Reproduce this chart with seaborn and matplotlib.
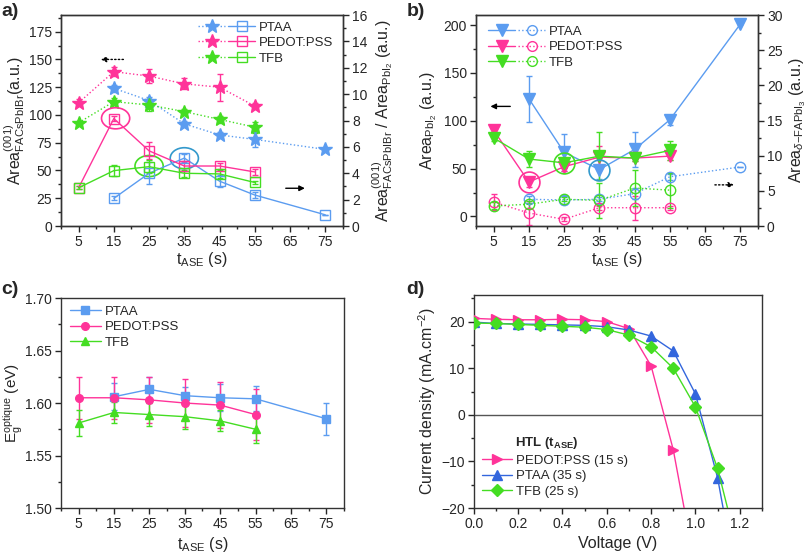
import numpy as np
import matplotlib
matplotlib.use("Agg")
import matplotlib.pyplot as plt
import seaborn as sns
from matplotlib.lines import Line2D
from matplotlib.patches import Ellipse
from matplotlib.legend_handler import HandlerTuple
from matplotlib.ticker import MultipleLocator

sns.set_style("ticks")
plt.rcParams["font.family"] = ["Liberation Sans", "DejaVu Sans"]
plt.rcParams["mathtext.fontset"] = "custom"
plt.rcParams["mathtext.rm"] = "Liberation Sans"
plt.rcParams["mathtext.it"] = "Liberation Sans:italic"
plt.rcParams["mathtext.bf"] = "Liberation Sans:bold"
plt.rcParams["xtick.direction"] = "out"
plt.rcParams["ytick.direction"] = "out"

# ---------------- data ----------------
t_all = [5, 15, 25, 35, 45, 55]
t_ptaa = [15, 25, 35, 45, 55, 75]
t_c_ptaa = [15, 25, 35, 45, 55, 75]

# panel a - left axis (stars)
a_ptaa_star = [124, 113, 92, 82, 78, 69]
a_ptaa_star_err = [3, 3, 3, 3, 7, 0]
a_pedot_star = [111, 139, 135, 128, 125, 108]
a_pedot_star_err = [3, 4, 6, 5, 12, 3]
a_tfb_star = [93, 112, 109, 103, 96, 89]
a_tfb_star_err = [2, 3, 5, 2, 3, 5]
# panel a - right axis (squares)
a_ptaa_sq = [2.1, 4.0, 5.15, 3.4, 2.35, 0.85]
a_ptaa_sq_err = [0.15, 0.85, 0.3, 0.45, 0.2, 0]
a_pedot_sq = [2.9, 8.15, 5.7, 4.55, 4.55, 4.1]
a_pedot_sq_err = [0.1, 0.2, 0.65, 0.4, 0.2, 0.2]
a_tfb_sq = [2.9, 4.2, 4.5, 4.0, 3.95, 3.3]
a_tfb_sq_err = [0.1, 0.4, 0.5, 0.25, 0.3, 0.15]

# panel b - left axis (down triangles)
b_ptaa_tri = [123, 67, 49, 70, 101, 201]
b_ptaa_tri_err = [24, 19, 10, 18, 5, 0]
b_pedot_tri = [90, 36, 52, 62, 61, 63]
b_pedot_tri_err = [6, 5, 5, 12, 3, 4]
b_tfb_tri = [82, 60, 56, 63, 61, 69]
b_tfb_tri_err = [3, 8, 5, 25, 3, 10]
# panel b - right axis (circles)
b_ptaa_circ = [3.8, 3.7, 3.8, 4.6, 7.0, 8.4]
b_ptaa_circ_err = [0.5, 0.6, 0.3, 0.8, 0.4, 0]
b_pedot_circ = [3.4, 1.85, 0.95, 2.6, 2.6, 2.6]
b_pedot_circ_err = [1.1, 1.7, 0.3, 0.3, 1.7, 0.3]
b_tfb_circ = [2.85, 3.1, 3.8, 3.65, 5.4, 5.1]
b_tfb_circ_err = [0.5, 0.5, 0.3, 2.5, 2.5, 2.5]

# panel c - optical band gap
c_ptaa = [1.606, 1.613, 1.607, 1.605, 1.604, 1.585]
c_ptaa_err = [0.013, 0.012, 0.008, 0.013, 0.012, 0.015]
c_pedot = [1.605, 1.605, 1.603, 1.600, 1.598, 1.589]
c_pedot_err = [0.020, 0.020, 0.022, 0.023, 0.022, 0.024]
c_tfb = [1.581, 1.591, 1.589, 1.587, 1.583, 1.575]
c_tfb_err = [0.012, 0.010, 0.011, 0.012, 0.010, 0.013]

# panel d - J-V curves
v_pedot = [0.0, 0.1, 0.2, 0.3, 0.4, 0.5, 0.6, 0.7, 0.8, 0.9, 1.0]
j_pedot = [20.7, 20.5, 20.4, 20.4, 20.5, 20.4, 20.0, 18.5, 10.5, -7.5, -33]
v_ptaa = [0.0, 0.1, 0.2, 0.3, 0.4, 0.5, 0.6, 0.7, 0.8, 0.9, 1.0, 1.1, 1.2]
j_ptaa = [19.9, 19.6, 19.5, 19.4, 19.3, 19.2, 18.9, 18.2, 16.9, 13.7, 4.5, -13.5, -39.5]
v_tfb = [0.0, 0.1, 0.2, 0.3, 0.4, 0.5, 0.6, 0.7, 0.8, 0.9, 1.0, 1.1, 1.2]
j_tfb = [19.7, 19.6, 19.4, 19.2, 19.0, 18.8, 18.3, 17.1, 14.6, 10.0, 1.7, -11.5, -30.4]

BLUE = "#5b9cf0"
BLUE_D = "#3366dd"
PINK = "#ff3399"
GREEN = "#44dd22"
LFS = 11.5   # axis label size
GFS = 9.5    # legend text size

fig = plt.figure(figsize=(8.1, 5.56), dpi=100)
ax_a = fig.add_axes([0.0753, 0.5935, 0.348, 0.3795])
ax_b = fig.add_axes([0.5877, 0.5935, 0.348, 0.3795])
ax_c = fig.add_axes([0.0753, 0.0863, 0.3494, 0.3777])
ax_d = fig.add_axes([0.585, 0.0863, 0.3556, 0.383])


def draw(ax, x, y, err, color, marker, ms, ls, filled=True):
    sns.lineplot(x=x, y=y, ax=ax, color=color, marker=marker, markersize=ms,
                 linestyle=ls, lw=1, markeredgecolor=color,
                 markerfacecolor=color if filled else "none",
                 markeredgewidth=1.0, zorder=3)
    if err is not None:
        ax.errorbar(x, y, yerr=err, fmt="none", ecolor=color, elinewidth=1,
                    capsize=2.5, capthick=1, zorder=2)


def style_ax(ax, fs=10):
    ax.tick_params(labelsize=fs, length=4, width=1, pad=2.5)
    ax.tick_params(which="minor", length=2, width=1)
    for s in ax.spines.values():
        s.set_linewidth(1)
        s.set_color("#333333")


TLAB = r"t$_{\rm ASE}$ (s)"
LEG_KW = dict(frameon=False, fontsize=GFS, borderaxespad=0.0,
              labelspacing=0.25, handletextpad=0.3)

# ---------------- panel a ----------------
ax_a2 = ax_a.twinx()
draw(ax_a, t_ptaa, a_ptaa_star, a_ptaa_star_err, BLUE, "*", 10, ":")
draw(ax_a, t_all, a_pedot_star, a_pedot_star_err, PINK, "*", 10, ":")
draw(ax_a, t_all, a_tfb_star, a_tfb_star_err, GREEN, "*", 10, ":")
draw(ax_a2, t_ptaa, a_ptaa_sq, a_ptaa_sq_err, BLUE, "s", 7, "-", filled=False)
draw(ax_a2, t_all, a_pedot_sq, a_pedot_sq_err, PINK, "s", 7, "-", filled=False)
draw(ax_a2, t_all, a_tfb_sq, a_tfb_sq_err, GREEN, "s", 7, "-", filled=False)
ax_a.set_xlim(0, 80)
ax_a.set_ylim(0, 190)
ax_a2.set_ylim(0, 16)
ax_a.set_xticks([5, 15, 25, 35, 45, 55, 65, 75])
ax_a.xaxis.set_minor_locator(MultipleLocator(5))
ax_a.set_yticks(np.arange(0, 176, 25))
ax_a.yaxis.set_minor_locator(MultipleLocator(12.5))
ax_a2.set_yticks(np.arange(0, 17, 2))
ax_a2.yaxis.set_minor_locator(MultipleLocator(1))
ax_a.set_xlabel(TLAB, fontsize=LFS)
ax_a.xaxis.set_label_coords(0.5, -0.115)
ax_a.set_ylabel(r"Area$^{(001)}_{\rm FACsPbIBr}$(a.u.)", fontsize=LFS)
ax_a.yaxis.set_label_coords(-0.12, 0.5)
ax_a2.set_ylabel(r"Area$^{(001)}_{\rm FACsPbIBr}$ / Area$_{\rm PbI_2}$ (a.u.)",
                 fontsize=LFS)
ax_a2.yaxis.set_label_coords(1.095, 0.5)
for (cx, cy, col) in [(15.5, 97, PINK), (25, 54, GREEN), (35, 61, "#3399cc")]:
    ax_a.add_patch(Ellipse((cx, cy), 8.0, 19, fill=False, ec=col, lw=1.2, zorder=4))
ax_a.annotate("", xy=(10.5, 150), xytext=(18.5, 150),
              arrowprops=dict(arrowstyle="-|>", ls=":", color="black", lw=1,
                              mutation_scale=8))
ax_a.annotate("", xy=(70, 34), xytext=(63, 34),
              arrowprops=dict(arrowstyle="-|>", color="black", lw=1,
                              mutation_scale=8))
hl_a = []
for col in [BLUE, PINK, GREEN]:
    h1 = Line2D([], [], color=col, ls=":", marker="*", ms=10, mec=col, lw=1)
    h2 = Line2D([], [], color=col, ls="-", marker="s", ms=7, mfc="none", mec=col, lw=1)
    hl_a.append((h1, h2))
ax_a.legend(hl_a, ["PTAA", "PEDOT:PSS", "TFB"], loc="upper right",
            bbox_to_anchor=(0.985, 0.995),
            handler_map={tuple: HandlerTuple(ndivide=None, pad=0.2)},
            handlelength=4.3, **LEG_KW)
style_ax(ax_a)
style_ax(ax_a2)

# ---------------- panel b ----------------
ax_b2 = ax_b.twinx()
draw(ax_b, t_ptaa, b_ptaa_tri, b_ptaa_tri_err, BLUE, "v", 8.5, "-")
draw(ax_b, t_all, b_pedot_tri, b_pedot_tri_err, PINK, "v", 8.5, "-")
draw(ax_b, t_all, b_tfb_tri, b_tfb_tri_err, GREEN, "v", 8.5, "-")
draw(ax_b2, t_ptaa, b_ptaa_circ, b_ptaa_circ_err, BLUE, "o", 7.5, ":", filled=False)
draw(ax_b2, t_all, b_pedot_circ, b_pedot_circ_err, PINK, "o", 7.5, ":", filled=False)
draw(ax_b2, t_all, b_tfb_circ, b_tfb_circ_err, GREEN, "o", 7.5, ":", filled=False)
ax_b.set_xlim(0, 80)
ax_b.set_ylim(-10, 210.5)
ax_b2.set_ylim(0, 30)
ax_b.set_xticks([5, 15, 25, 35, 45, 55, 65, 75])
ax_b.xaxis.set_minor_locator(MultipleLocator(5))
ax_b.set_yticks([0, 50, 100, 150, 200])
ax_b.yaxis.set_minor_locator(MultipleLocator(25))
ax_b2.set_yticks(np.arange(0, 31, 5))
ax_b2.yaxis.set_minor_locator(MultipleLocator(2.5))
ax_b.set_xlabel(TLAB, fontsize=LFS)
ax_b.xaxis.set_label_coords(0.5, -0.115)
ax_b.set_ylabel(r"Area$_{\rm PbI_2}$ (a.u.)", fontsize=LFS)
ax_b.yaxis.set_label_coords(-0.13, 0.5)
ax_b2.set_ylabel(r"Area$_{\delta\rm{-FAPbI_3}}$ (a.u.)", fontsize=LFS)
ax_b2.yaxis.set_label_coords(1.105, 0.5)
for (cx, cy, col) in [(15, 36, PINK), (25, 56, GREEN), (35, 49, "#3399cc")]:
    ax_b.plot([cx], [cy], marker="o", ms=15, mfc="none", mec=col, mew=1.2,
              ls="none", zorder=4)
ax_b.annotate("", xy=(3.3, 115), xytext=(10.5, 115),
              arrowprops=dict(arrowstyle="-|>", color="black", lw=1,
                              mutation_scale=8))
ax_b.annotate("", xy=(74, 33), xytext=(67, 33),
              arrowprops=dict(arrowstyle="-|>", ls=":", color="black", lw=1,
                              mutation_scale=8))
hl_b = []
for col in [BLUE, PINK, GREEN]:
    h1 = Line2D([], [], color=col, ls="-", marker="v", ms=8.5, mec=col, lw=1)
    h2 = Line2D([], [], color=col, ls=":", marker="o", ms=7, mfc="none", mec=col, lw=1)
    hl_b.append((h1, h2))
ax_b.legend(hl_b, ["PTAA", "PEDOT:PSS", "TFB"], loc="upper left",
            bbox_to_anchor=(0.025, 0.976),
            handler_map={tuple: HandlerTuple(ndivide=None, pad=0.2)},
            handlelength=4.3, **LEG_KW)
style_ax(ax_b)
style_ax(ax_b2)

# ---------------- panel c ----------------
draw(ax_c, t_c_ptaa, c_ptaa, c_ptaa_err, BLUE, "s", 5.5, "-")
draw(ax_c, t_all, c_pedot, c_pedot_err, PINK, "o", 5.5, "-")
draw(ax_c, t_all, c_tfb, c_tfb_err, GREEN, "^", 5.5, "-")
ax_c.set_xlim(0, 80)
ax_c.set_ylim(1.50, 1.70)
ax_c.set_xticks([5, 15, 25, 35, 45, 55, 65, 75])
ax_c.xaxis.set_minor_locator(MultipleLocator(5))
ax_c.set_yticks(np.arange(1.50, 1.701, 0.05))
ax_c.yaxis.set_minor_locator(MultipleLocator(0.025))
ax_c.set_xlabel(TLAB, fontsize=LFS)
ax_c.xaxis.set_label_coords(0.5, -0.13)
ax_c.set_ylabel(r"E$_{\rm g}^{\rm optique}$ (eV)", fontsize=11)
ax_c.yaxis.set_label_coords(-0.128, 0.5)
hl_c = [Line2D([], [], color=BLUE, marker="s", ms=5.5, lw=1),
        Line2D([], [], color=PINK, marker="o", ms=5.5, lw=1),
        Line2D([], [], color=GREEN, marker="^", ms=5.5, lw=1)]
ax_c.legend(hl_c, ["PTAA", "PEDOT:PSS", "TFB"], loc="upper left",
            bbox_to_anchor=(0.014, 0.99), handlelength=2.3, **LEG_KW)
style_ax(ax_c)

# ---------------- panel d ----------------
ax_d.axhline(0, color="#555555", lw=1, zorder=1)
draw(ax_d, v_pedot, j_pedot, None, PINK, ">", 7, "-")
draw(ax_d, v_ptaa, j_ptaa, None, BLUE_D, "^", 7, "-")
draw(ax_d, v_tfb, j_tfb, None, GREEN, "D", 6, "-")
ax_d.set_xlim(0, 1.3)
ax_d.set_ylim(-20, 25.7)
ax_d.set_xticks(np.arange(0, 1.21, 0.2))
ax_d.xaxis.set_minor_locator(MultipleLocator(0.1))
ax_d.set_yticks([-20, -10, 0, 10, 20])
ax_d.yaxis.set_minor_locator(MultipleLocator(5))
ax_d.set_xlabel("Voltage (V)", fontsize=LFS)
ax_d.xaxis.set_label_coords(0.5, -0.13)
ax_d.set_ylabel(r"Current density (mA.cm$^{-2}$)", fontsize=LFS)
ax_d.yaxis.set_label_coords(-0.125, 0.5)
hl_d = [Line2D([], [], color=PINK, marker=">", ms=7, lw=1),
        Line2D([], [], color=BLUE_D, marker="^", ms=7, lw=1),
        Line2D([], [], color=GREEN, marker="D", ms=6, lw=1)]
# title sits over the text column, so pad it with spaces
leg_d = ax_d.legend(hl_d, ["PEDOT:PSS (15 s)", "PTAA (35 s)", "TFB (25 s)"],
                    loc="lower left", bbox_to_anchor=(0.01, 0.023),
                    title="         " + r"HTL (t$_{\mathbf{ASE}}$)",
                    title_fontproperties={"weight": "bold", "size": GFS},
                    alignment="left", handlelength=2.3, **LEG_KW)
style_ax(ax_d)

for lab, x, y in [("a)", 0.002, 0.995), ("b)", 0.502, 0.995),
                  ("c)", 0.002, 0.495), ("d)", 0.502, 0.495)]:
    fig.text(x, y, lab, fontsize=14, fontweight="bold", va="top", ha="left")

fig.savefig("out.png", dpi=100)
